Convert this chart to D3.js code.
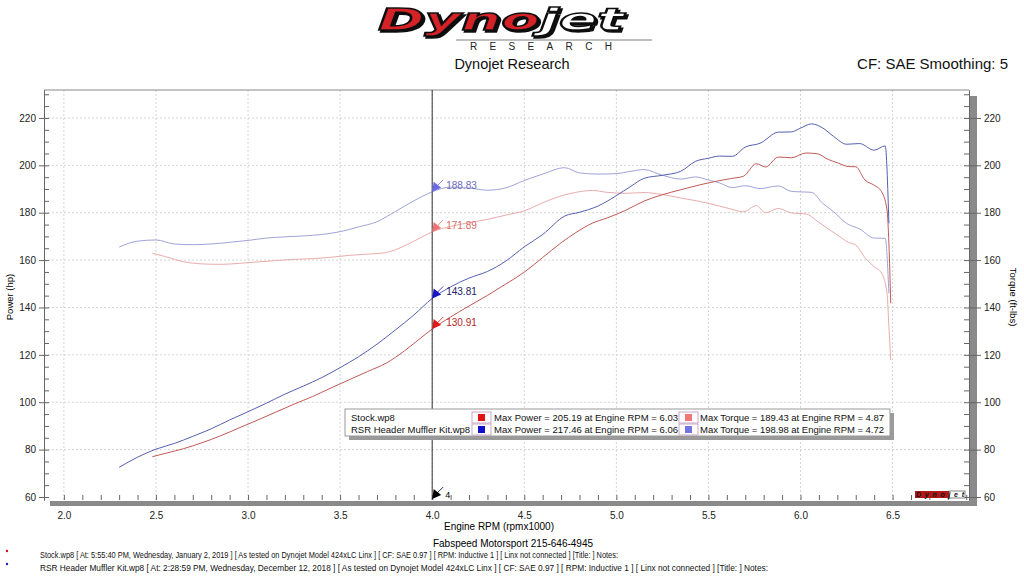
<!DOCTYPE html>
<html>
<head>
<meta charset="utf-8">
<script src="https://cdn.jsdelivr.net/npm/d3@7"></script>
<style>
  body { margin: 0; background: #fff; }
  svg { display: block; font-family: "Liberation Sans", Arial, sans-serif; }
</style>
</head>
<body>
<svg id="chart" width="1024" height="576"></svg>
<script>
// RSR Header Muffler Kit run
const rsrRpm = [2.30, 2.40, 2.50, 2.60, 2.70, 2.80, 2.90, 3.00, 3.10, 3.20, 3.30, 3.40, 3.50, 3.60, 3.70, 3.80, 3.90, 4.00,
  4.10, 4.20, 4.30, 4.40, 4.50, 4.60, 4.72, 4.80, 4.90, 5.00, 5.08, 5.15, 5.25, 5.35, 5.43, 5.50, 5.56, 5.63, 5.70,
  5.78, 5.88, 5.95, 6.00, 6.06, 6.12, 6.18, 6.25, 6.32, 6.40, 6.46, 6.48];
const rsrPower = [72.5, 76.8, 80.2, 82.6, 85.6, 88.8, 92.5, 96.0, 99.6, 103.4, 106.8, 110.4, 114.6, 119.2, 124.5, 130.5, 136.8, 143.8,
  148.7, 152.4, 155.2, 159.6, 165.6, 170.8, 178.6, 180.2, 182.8, 187.2, 191.2, 194.5, 195.8, 197.5, 201.7, 203.0, 203.9, 203.8, 207.7,
  209.3, 214.0, 214.1, 215.7, 217.5, 215.8, 212.2, 208.9, 209.2, 206.4, 208.2, 175.5];
const rsrTorque = [165.5, 168.0, 168.5, 166.8, 166.5, 166.8, 167.5, 168.3, 169.3, 169.8, 170.2, 170.8, 172.0, 174.0, 176.2, 180.5, 185.0, 188.8,
  190.8, 190.4, 189.5, 190.5, 193.6, 196.3, 199.0, 196.8, 196.3, 196.5, 197.5, 198.2, 195.8, 194.2, 195.1, 193.8, 192.6, 190.6, 191.4,
  190.2, 191.3, 189.0, 188.8, 188.6, 184.0, 180.4, 175.5, 173.2, 169.3, 169.2, 146.0];

// Stock run
const stockRpm = [2.48, 2.55, 2.65, 2.75, 2.85, 2.95, 3.05, 3.15, 3.25, 3.35, 3.45, 3.55, 3.65, 3.75, 3.85, 3.95, 4.00,
  4.10, 4.20, 4.30, 4.40, 4.50, 4.60, 4.70, 4.78, 4.87, 4.95, 5.05, 5.15, 5.25, 5.35, 5.45, 5.55, 5.62, 5.69, 5.76,
  5.81, 5.88, 5.95, 6.03, 6.09, 6.15, 6.20, 6.26, 6.30, 6.35, 6.40, 6.44, 6.47, 6.48, 6.49];
const stockPower = [77.0, 78.4, 80.4, 82.9, 85.8, 89.1, 92.4, 95.8, 99.2, 102.4, 106.0, 109.5, 113.0, 116.5, 121.7, 127.9, 130.9,
  136.0, 140.6, 145.1, 149.9, 154.9, 161.1, 167.3, 171.6, 175.6, 177.8, 181.0, 184.9, 187.6, 189.7, 191.7, 193.4, 194.4, 195.4, 200.7,
  199.3, 203.5, 203.2, 205.2, 204.9, 202.5, 201.1, 199.5, 199.4, 193.8, 191.6, 188.9, 181.1, 167.1, 141.8];
const stockTorque = [162.9, 161.5, 159.3, 158.4, 158.2, 158.6, 159.2, 159.8, 160.3, 160.6, 161.2, 162.0, 162.5, 163.2, 166.0, 170.0, 171.9,
  174.2, 175.8, 177.2, 179.0, 180.8, 184.2, 187.1, 188.6, 189.4, 188.6, 188.2, 188.5, 187.7, 186.2, 184.8, 183.0, 181.6, 180.4, 183.0,
  180.0, 181.8, 179.9, 179.5, 176.5, 173.2, 170.6, 167.5, 166.4, 161.0, 157.2, 154.5, 146.0, 132.0, 117.8];

// axis ticks
const rpmTicks = [2.0, 2.5, 3.0, 3.5, 4.0, 4.5, 5.0, 5.5, 6.0, 6.5];
const valueTicks = [60, 80, 100, 120, 140, 160, 180, 200, 220];

// cursor readout at 4.0
const cursorRpm = 4.0;
const cursorValues = [188.83, 171.89, 143.81, 130.91];
const cursorColors = ["#6a6ae8", "#ee7272", "#1414c8", "#e01818"];
const cursorText = ["#6a6ab8", "#d86a6a", "#22226a", "#b82828"];

const legendFiles = ["Stock.wp8", "RSR Header Muffler Kit.wp8"];
const legendPower = ["Max Power = 205.19 at Engine RPM = 6.03", "Max Power = 217.46 at Engine RPM = 6.06"];
const legendTorque = ["Max Torque = 189.43 at Engine RPM = 4.87", "Max Torque = 198.98 at Engine RPM = 4.72"];
const legendPowerColor = ["#e01414", "#1010cc"];
const legendTorqueColor = ["#f07878", "#7474e4"];

const svg = d3.select("#chart");
svg.append("rect").attr("width", 1024).attr("height", 576).attr("fill", "#fff");

const plotLeft = 44, plotRight = 969, plotTop = 90, plotBottom = 500;
const x = d3.scaleLinear().domain([1.892, 6.915]).range([plotLeft, plotRight]);
const y = d3.scaleLinear().domain([58.73, 231.8]).range([plotBottom, plotTop]);

// --- header / logo ---
svg.append("defs").append("filter").attr("id", "logoShadow")
  .append("feDropShadow").attr("dx", 2).attr("dy", 2).attr("stdDeviation", 0.3).attr("flood-color", "#111");
const lt = svg.append("text").attr("x", 378).attr("y", 30).attr("textLength", 246).attr("lengthAdjust", "spacingAndGlyphs")
  .attr("filter", "url(#logoShadow)")
  .style("font-family", "DejaVu Sans").style("font-weight", 900).style("font-style", "italic")
  .style("font-size", "30px").attr("stroke", "#111").attr("stroke-width", 1.4);
lt.append("tspan").attr("fill", "#d42028").text("Dyno");
lt.append("tspan").attr("fill", "#fff").text("jet");
svg.append("line").attr("x1", 456).attr("x2", 652).attr("y1", 40).attr("y2", 40).attr("stroke", "#aaa").attr("stroke-width", 1.5);
svg.append("text").attr("x", 470).attr("y", 50).attr("textLength", 142).style("font-size", "10px").attr("fill", "#222")
  .text("RESEARCH");

svg.append("text").attr("x", 512).attr("y", 69).attr("text-anchor", "middle").style("font-size", "14.5px").attr("fill", "#111")
  .text("Dynojet Research");
svg.append("text").attr("x", 1008).attr("y", 69).attr("text-anchor", "end").style("font-size", "15px").attr("fill", "#111")
  .text("CF: SAE Smoothing: 5");

// --- grid ---
const grid = svg.append("g").attr("stroke", "#d4d4d4").attr("stroke-dasharray", "2,2").attr("stroke-width", 1);
grid.selectAll(".gx").data(rpmTicks).join("line")
  .attr("x1", d => x(d)).attr("x2", d => x(d)).attr("y1", plotTop).attr("y2", plotBottom);
grid.selectAll(".gy").data(valueTicks.slice(1)).join("line")
  .attr("x1", plotLeft).attr("x2", plotRight).attr("y1", d => y(d)).attr("y2", d => y(d));

// --- frame and axis bars ---
svg.append("line").attr("x1", plotLeft).attr("x2", plotRight).attr("y1", plotTop).attr("y2", plotTop).attr("stroke", "#888");
svg.append("rect").attr("x", 50).attr("y", plotBottom + 1).attr("width", 927).attr("height", 5).attr("fill", "#8a8a8a");
svg.append("rect").attr("x", plotRight + 1).attr("y", 96).attr("width", 7).attr("height", 410).attr("fill", "#8a8a8a");

const minorValues = d3.range(60, 231, 5);
const minorRpm = d3.range(19, 70).map(d => d / 10);

// left axis
svg.append("g").attr("transform", `translate(${plotLeft},0)`)
  .call(d3.axisLeft(y).tickValues(valueTicks).tickSize(5).tickPadding(3).tickSizeOuter(0));
svg.append("g").attr("transform", `translate(${plotLeft},0)`)
  .call(d3.axisLeft(y).tickValues(minorValues).tickSize(-5).tickFormat("").tickSizeOuter(0));

// right axis
svg.append("g").attr("transform", `translate(${plotRight},0)`)
  .call(d3.axisRight(y).tickValues(valueTicks).tickSize(12).tickPadding(3).tickSizeOuter(0));
svg.append("g").attr("transform", `translate(${plotRight},0)`)
  .call(d3.axisRight(y).tickValues(minorValues).tickSize(-5).tickFormat("").tickSizeOuter(0));

// bottom axis
const gb = svg.append("g").attr("transform", `translate(0,${plotBottom})`);
gb.call(d3.axisBottom(x).tickValues(rpmTicks).tickSize(0).tickPadding(12).tickFormat(d3.format(".1f")));
gb.select(".domain").remove();
svg.append("g").attr("transform", `translate(0,${plotBottom})`)
  .call(d3.axisBottom(x).tickValues(minorRpm.filter(d => x(d) > 50 && x(d) < plotRight)).tickSize(-5).tickFormat("").tickSizeOuter(0))
  .select(".domain").remove();

svg.selectAll(".tick text").style("font-size", "10px").style("font-family", "Liberation Sans, Arial").attr("fill", "#222");
svg.selectAll(".domain, .tick line").attr("stroke", "#666");

// axis titles
svg.append("text").attr("transform", "translate(13,297) rotate(-90)").attr("text-anchor", "middle")
  .style("font-size", "9.5px").text("Power (hp)");
svg.append("text").attr("transform", "translate(1010,297) rotate(90)").attr("text-anchor", "middle")
  .style("font-size", "9.5px").text("Torque (ft-lbs)");
svg.append("text").attr("x", 499).attr("y", 530).attr("text-anchor", "middle")
  .style("font-size", "10px").text("Engine RPM (rpmx1000)");

// --- curves ---
const line = d3.line().x(d => x(d[0])).y(d => y(d[1])).curve(d3.curveMonotoneX);
const series = [
  { rpm: stockRpm, vals: stockTorque, color: "#e8acac" },
  { rpm: rsrRpm, vals: rsrTorque, color: "#a2a2d8" },
  { rpm: stockRpm, vals: stockPower, color: "#c05a56" },
  { rpm: rsrRpm, vals: rsrPower, color: "#5560ae" }
];
series.forEach(s => {
  svg.append("path").datum(d3.zip(s.rpm, s.vals))
    .attr("fill", "none").attr("stroke", s.color).attr("stroke-width", 1).attr("d", line);
});

// --- cursor ---
svg.append("line").attr("x1", x(cursorRpm)).attr("x2", x(cursorRpm)).attr("y1", plotTop).attr("y2", plotBottom)
  .attr("stroke", "#333").attr("stroke-width", 1);

function marker(px, py, color) {
  const g = svg.append("g").attr("transform", `translate(${px},${py})`);
  g.append("line").attr("x1", 5).attr("y1", -6).attr("x2", 11).attr("y2", -12).attr("stroke", color).attr("stroke-width", 0.8);
  g.append("path").attr("d", "M0,0 L1.5,-10 L9,-4 Z").attr("fill", color);
  return g;
}
cursorValues.forEach((v, i) => {
  marker(x(cursorRpm), y(v), cursorColors[i]);
  svg.append("text").attr("x", x(cursorRpm) + 14).attr("y", y(v) - 3).style("font-size", "10px")
    .attr("fill", cursorText[i]).text(v.toFixed(2));
});
marker(x(cursorRpm), plotBottom - 1, "#000");
svg.append("text").attr("x", x(cursorRpm) + 13).attr("y", plotBottom - 2).style("font-size", "9px").text("4");

// --- legend ---
const lg = svg.append("g").attr("transform", "translate(345,409)");
lg.append("rect").attr("x", 4).attr("y", 4).attr("width", 545).attr("height", 27).attr("fill", "#9a9a9a");
lg.append("rect").attr("x", 0).attr("y", 0).attr("width", 545).attr("height", 27).attr("fill", "#fff").attr("stroke", "#999");
legendFiles.forEach((f, i) => {
  const ry = 3 + i * 12;
  lg.append("text").attr("x", 6).attr("y", ry + 9).style("font-size", "9.5px").attr("fill", "#111").text(f);
  lg.append("rect").attr("x", 127).attr("y", ry).attr("width", 19).attr("height", 11).attr("fill", "#fff").attr("stroke", "#c8a8c8");
  lg.append("rect").attr("x", 133).attr("y", ry + 2).attr("width", 7).attr("height", 7).attr("fill", legendPowerColor[i]);
  lg.append("text").attr("x", 149).attr("y", ry + 9).attr("textLength", 184).style("font-size", "9.5px").attr("fill", "#111").text(legendPower[i]);
  lg.append("rect").attr("x", 334).attr("y", ry).attr("width", 19).attr("height", 11).attr("fill", "#fff").attr("stroke", "#c8a8c8");
  lg.append("rect").attr("x", 340).attr("y", ry + 2).attr("width", 7).attr("height", 7).attr("fill", legendTorqueColor[i]);
  lg.append("text").attr("x", 355).attr("y", ry + 9).attr("textLength", 184).style("font-size", "9.5px").attr("fill", "#111").text(legendTorque[i]);
});

// small brand mark at bottom right
const bm = svg.append("g").attr("transform", "translate(915,491)");
bm.append("rect").attr("width", 34).attr("height", 7).attr("fill", "#b01818");
bm.append("rect").attr("x", 34).attr("width", 16).attr("height", 7).attr("fill", "#fff").attr("stroke", "#333").attr("stroke-width", 0.6);
bm.append("text").attr("x", 1).attr("y", 6).attr("textLength", 48).style("font-size", "7px").style("font-style", "italic")
  .style("font-weight", "bold").attr("fill", "#111").text("Dynojet");

// --- footer ---
svg.append("text").attr("x", 513).attr("y", 547).attr("text-anchor", "middle").style("font-size", "10px")
  .text("Fabspeed Motorsport 215-646-4945");
const footLines = [
  "Stock.wp8 [ At: 5:55:40 PM, Wednesday, January 2, 2019 ] [ As tested on Dynojet Model 424xLC Linx ] [ CF: SAE 0.97 ] [ RPM: Inductive 1 ] [ Linx not connected ] [Title: ]  Notes:",
  "RSR Header Muffler Kit.wp8 [ At: 2:28:59 PM, Wednesday, December 12, 2018 ] [ As tested on Dynojet Model 424xLC Linx ] [ CF: SAE 0.97 ] [ RPM: Inductive 1 ] [ Linx not connected ] [Title: ]  Notes:"
];
const footWidths = [578, 728];
const dotColors = ["#e01010", "#2020c0"];
footLines.forEach((t, i) => {
  svg.append("text").attr("x", 40).attr("y", 558 + i * 13).attr("textLength", footWidths[i]).attr("lengthAdjust", "spacingAndGlyphs")
    .style("font-size", "9.5px").attr("fill", "#111").text(t);
  svg.append("circle").attr("cx", 7).attr("cy", 551 + i * 13).attr("r", 1.2).attr("fill", dotColors[i]);
});
</script>
</body>
</html>
